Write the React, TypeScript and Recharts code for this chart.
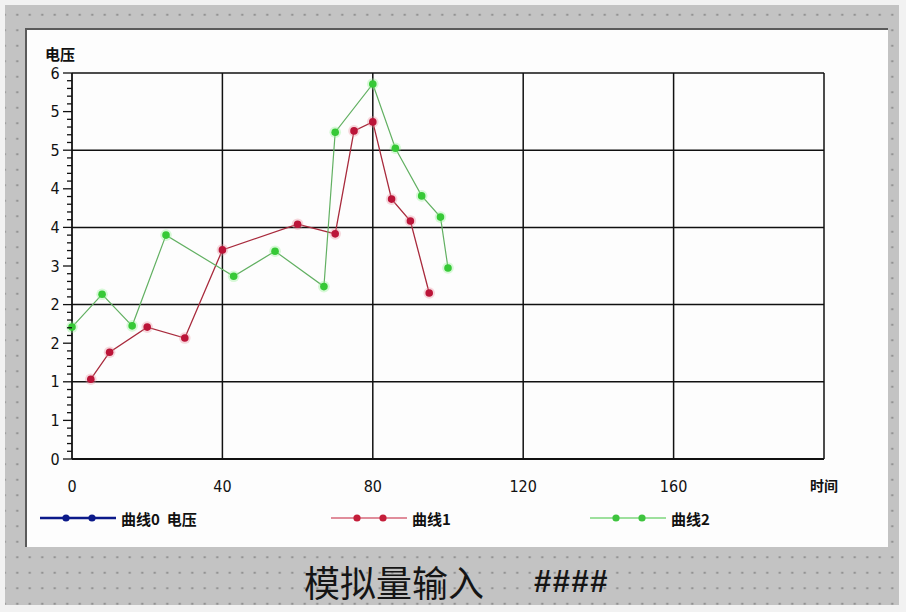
import { CartesianGrid, Line, LineChart, XAxis, YAxis } from 'recharts';

// 曲线1 samples (time, voltage)
const curve1Time = [5, 10, 20, 30, 40, 60, 70, 75, 80, 85, 90, 95];
const curve1Volt = [1.24, 1.66, 2.05, 1.88, 3.25, 3.65, 3.5, 5.1, 5.24, 4.04, 3.7, 2.58];

// 曲线2 samples (time, voltage)
const curve2Time = [0, 8, 16, 25, 43, 54, 67, 70, 80, 86, 93, 98, 100];
const curve2Volt = [2.05, 2.56, 2.07, 3.48, 2.84, 3.23, 2.68, 5.08, 5.83, 4.83, 4.09, 3.76, 2.97];

const xTicks = [0, 40, 80, 120, 160, 200];
const xGrid = [40, 80, 120, 160, 200];
const yGrid = [1.2, 2.4, 3.6, 4.8, 6];
// minor ticks every 0.12, labelled every 0.6
const yTicks = Array.from({ length: 51 }, (_, i) => +(i * 0.12).toFixed(2));

const legendItems = [
  { name: '曲线0  电压', color: '#0c1a8a', width: 2.6, left: 40 },
  { name: '曲线1', color: '#c41e3a', width: 1.2, left: 331 },
  { name: '曲线2', color: '#3ec43e', width: 1.2, left: 590 },
];

const toPoints = (xs: number[], ys: number[]) => xs.map((x, i) => ({ x, y: ys[i] }));
const curve1 = toPoints(curve1Time, curve1Volt);
const curve2 = toPoints(curve2Time, curve2Volt);

const numFont = "'Liberation Sans Narrow', 'DejaVu Sans Condensed', sans-serif";
const cjkFont = "'Noto Sans CJK SC', sans-serif";

function YTick(props: any) {
  const { x, y, payload, index } = props;
  const major = index % 5 === 0;
  return (
    <g>
      <line x1={x - (major ? 9 : 5)} x2={x} y1={y} y2={y} stroke="#111" strokeWidth={1.3} />
      {major ? (
        <text x={x - 17} y={y + 1} textAnchor="middle" dominantBaseline="middle" fontSize={16} fontFamily={numFont} fill="#111">
          {Math.round(payload.value)}
        </text>
      ) : null}
    </g>
  );
}

function XTick(props: any) {
  const { x, y, payload } = props;
  const label = payload.value === 200 ? '时间' : String(payload.value);
  return (
    <text
      x={x}
      y={y + 28}
      textAnchor="middle"
      dominantBaseline="middle"
      fontSize={payload.value === 200 ? 14 : 16}
      fontWeight={payload.value === 200 ? 700 : 400}
      fontFamily={payload.value === 200 ? cjkFont : numFont}
      fill="#111"
    >
      {label}
    </text>
  );
}

function glowDot(fill: string, halo: string) {
  return (props: any) => (
    <g key={`dot-${props.index}`}>
      <circle cx={props.cx} cy={props.cy} r={5.8} fill={halo} fillOpacity={0.35} />
      <circle cx={props.cx} cy={props.cy} r={3.8} fill={fill} />
    </g>
  );
}

export default function App() {
  return (
    <div style={{ position: 'absolute', left: 0, top: 0, width: 906, height: 612, background: '#f2f2f2', overflow: 'hidden' }}>
      <div
        style={{
          position: 'absolute',
          left: 5,
          top: 5,
          width: 894,
          height: 600,
          backgroundColor: '#c3c3c3',
          backgroundImage: 'radial-gradient(circle, #8c8c8c 0.9px, transparent 1.3px)',
          backgroundSize: '12.5px 15.5px',
          backgroundPosition: '6px 2px',
        }}
      />
      <div
        style={{
          position: 'absolute',
          left: 25,
          top: 28,
          width: 861,
          height: 517,
          background: '#fdfdfd',
          borderLeft: '2px solid #5a5a5a',
          borderTop: '2px solid #5a5a5a',
        }}
      />
      <div
        style={{ position: 'absolute', left: 45, top: 43, fontSize: 15, fontWeight: 700, fontFamily: cjkFont, color: '#111' }}
      >
        电压
      </div>
      <div style={{ position: 'absolute', left: 0, top: 0 }}>
        <LineChart width={906} height={612} margin={{ top: 73, right: 82, bottom: 123, left: 12 }}>
          <CartesianGrid
            horizontalValues={yGrid}
            verticalValues={xGrid}
            stroke="#111"
            strokeWidth={1.5}
          />
          <XAxis
            type="number"
            dataKey="x"
            domain={[0, 200]}
            ticks={xTicks}
            interval={0}
            height={30}
            tickSize={0}
            tickMargin={0}
            tickLine={false}
            axisLine={{ stroke: '#111', strokeWidth: 1.8 }}
            tick={<XTick />}
          />
          <YAxis
            type="number"
            domain={[0, 6]}
            ticks={yTicks}
            interval={0}
            width={60}
            tickSize={0}
            tickMargin={0}
            tickLine={false}
            axisLine={{ stroke: '#111', strokeWidth: 1.8 }}
            tick={<YTick />}
          />
          <Line
            data={[]}
            dataKey="y"
            name="曲线0"
            stroke="#0c1a8a"
            dot={false}
            isAnimationActive={false}
          />
          <Line
            data={curve1}
            dataKey="y"
            name="曲线1"
            stroke="#a82a3c"
            strokeWidth={1.3}
            dot={glowDot('#bb1438', '#e8909e')}
            activeDot={false}
            isAnimationActive={false}
          />
          <Line
            data={curve2}
            dataKey="y"
            name="曲线2"
            stroke="#62b062"
            strokeWidth={1.2}
            dot={glowDot('#36c936', '#8ef08e')}
            activeDot={false}
            isAnimationActive={false}
          />
        </LineChart>
      </div>
      {legendItems.map((item) => (
        <div
          key={item.name}
          style={{ position: 'absolute', left: item.left, top: 508, display: 'flex', alignItems: 'center', height: 20 }}
        >
          <svg width={76} height={14} style={{ display: 'block' }}>
            <line x1={0} x2={76} y1={7} y2={7} stroke={item.color} strokeWidth={item.width} />
            <circle cx={26} cy={7} r={3.6} fill={item.color} />
            <circle cx={52} cy={7} r={3.6} fill={item.color} />
          </svg>
          <span style={{ marginLeft: 5, fontSize: 15, fontWeight: 700, fontFamily: cjkFont, color: '#111', whiteSpace: 'pre' }}>
            {item.name}
          </span>
        </div>
      ))}
      <div style={{ position: 'absolute', left: 304, top: 556, fontSize: 36, fontFamily: cjkFont, color: '#151515', lineHeight: '50px' }}>
        模拟量输入
      </div>
      <div
        style={{
          position: 'absolute',
          left: 534,
          top: 562,
          fontSize: 31,
          fontWeight: 700,
          fontFamily: "'Liberation Sans', sans-serif",
          color: '#151515',
          lineHeight: '40px',
          letterSpacing: 1.5,
        }}
      >
        ####
      </div>
    </div>
  );
}
